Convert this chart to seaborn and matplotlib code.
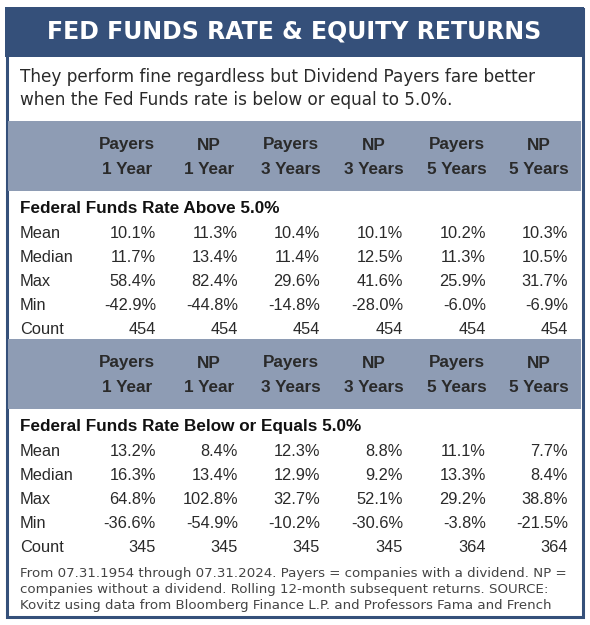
import matplotlib.pyplot as plt
import seaborn as sns
from matplotlib.patches import Rectangle

title = "FED FUNDS RATE & EQUITY RETURNS"
subtitle = ["They perform fine regardless but Dividend Payers fare better",
            "when the Fed Funds rate is below or equal to 5.0%."]
col_top = ["Payers", "NP", "Payers", "NP", "Payers", "NP"]
col_bottom = ["1 Year", "1 Year", "3 Years", "3 Years", "5 Years", "5 Years"]
row_names = ["Mean", "Median", "Max", "Min", "Count"]

above_label = "Federal Funds Rate Above 5.0%"
above_mean = [10.1, 11.3, 10.4, 10.1, 10.2, 10.3]
above_median = [11.7, 13.4, 11.4, 12.5, 11.3, 10.5]
above_max = [58.4, 82.4, 29.6, 41.6, 25.9, 31.7]
above_min = [-42.9, -44.8, -14.8, -28.0, -6.0, -6.9]
above_count = [454, 454, 454, 454, 454, 454]

below_label = "Federal Funds Rate Below or Equals 5.0%"
below_mean = [13.2, 8.4, 12.3, 8.8, 11.1, 7.7]
below_median = [16.3, 13.4, 12.9, 9.2, 13.3, 8.4]
below_max = [64.8, 102.8, 32.7, 52.1, 29.2, 38.8]
below_min = [-36.6, -54.9, -10.2, -30.6, -3.8, -21.5]
below_count = [345, 345, 345, 345, 364, 364]

footnote = ["From 07.31.1954 through 07.31.2024. Payers = companies with a dividend. NP =",
            "companies without a dividend. Rolling 12-month subsequent returns. SOURCE:",
            "Kovitz using data from Bloomberg Finance L.P. and Professors Fama and French"]

NAVY = "#35507a"
GREY = "#8e9cb4"
INK = "#2a2a2a"
TABLE = ["Liberation Sans", "DejaVu Sans"]
WIDE = ["DejaVu Sans"]

sns.set_theme(style="white")

fig = plt.figure(figsize=(5.9, 6.25), dpi=100)
ax = fig.add_axes([0, 0, 1, 1])
ax.set_xlim(0, 590)
ax.set_ylim(625, 0)
ax.axis("off")

# frame and title band
ax.add_patch(Rectangle((6.5, 8.5), 576, 608, facecolor="white", edgecolor=NAVY, lw=2.2))
ax.add_patch(Rectangle((5, 7), 579, 50, facecolor=NAVY, edgecolor="none"))

ax.text(294.5, 32, title, ha="center", va="center", color="white",
        fontsize=17, fontweight="bold", family=WIDE)
for i, line in enumerate(subtitle):
    ax.text(20, 77 + i * 23, line, ha="left", va="center", color=INK,
            fontsize=12.2, family=WIDE)

col_right = [156, 238, 320, 403, 486, 568]


def draw_block(y0, label, rows):
    ax.add_patch(Rectangle((8, y0), 573, 69.5, facecolor=GREY, edgecolor="none"))
    for j, r in enumerate(col_right):
        ax.text(r - 29, y0 + 24, col_top[j], ha="center", va="center",
                color=INK, fontsize=12.3, fontweight="bold", family=TABLE)
        ax.text(r - 29, y0 + 48, col_bottom[j], ha="center", va="center",
                color=INK, fontsize=12.3, fontweight="bold", family=TABLE)
    ax.text(20, y0 + 87.5, label, ha="left", va="center", color="#111111",
            fontsize=12.3, fontweight="bold", family=TABLE)
    for i, (name, vals) in enumerate(zip(row_names, rows)):
        y = y0 + 112 + i * 24.2
        ax.text(20, y, name, ha="left", va="center", color=INK,
                fontsize=11.8, family=TABLE)
        for j, v in enumerate(vals):
            s = str(v) if name == "Count" else f"{v:.1f}%"
            ax.text(col_right[j], y, s, ha="right", va="center", color=INK,
                    fontsize=11.8, family=TABLE)


draw_block(121, above_label,
           [above_mean, above_median, above_max, above_min, above_count])
draw_block(339, below_label,
           [below_mean, below_median, below_max, below_min, below_count])

for i, line in enumerate(footnote):
    ax.text(20, 573 + i * 16.5, line, ha="left", va="center", color="#444444",
            fontsize=9.6, family=WIDE)

fig.savefig("out.png", dpi=100)
